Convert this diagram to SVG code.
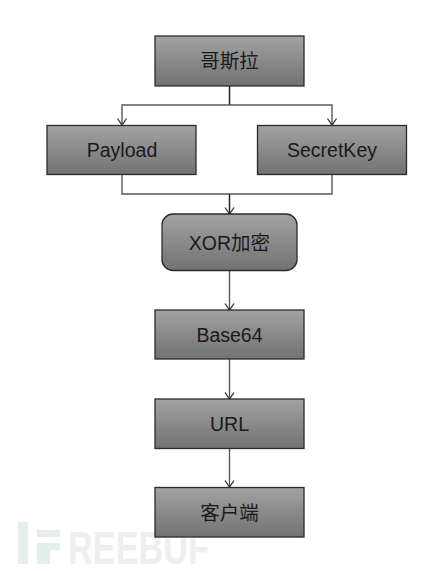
<svg xmlns="http://www.w3.org/2000/svg" width="448" height="571" viewBox="0 0 448 571">
<style>
.n{fill:url(#g);stroke:#2b2b2b;stroke-width:1.3}
.t{font-family:"Liberation Sans","Noto Sans CJK SC",sans-serif;font-size:19.5px;fill:#1a1a1a;text-anchor:middle}
.c{fill:none;stroke:#5a5a5a;stroke-width:1.4}
.d{fill:none;stroke:#222;stroke-width:1.5}
.w{font-family:"Liberation Sans",sans-serif;font-weight:bold;font-size:47px;fill:#eeeeee}
</style>
<defs>
<linearGradient id="g" x1="0" y1="0" x2="0" y2="1"><stop offset="0" stop-color="#a2a2a2"/><stop offset="1" stop-color="#727272"/></linearGradient>
<marker id="a" markerUnits="userSpaceOnUse" markerWidth="12" markerHeight="12" refX="9" refY="6" orient="auto"><path d="M2.5 1.500L9 6L2.500 10.500" fill="none" stroke="#333" stroke-width="1.3"/></marker>
</defs>
<rect width="448" height="571" fill="#fff"/>
<g id="watermark">
<rect x="18" y="522" width="10" height="42" fill="#e4efe9"/>
<rect x="37" y="530" width="23" height="7" fill="#e4efe9"/>
<rect x="37" y="543" width="23" height="7" fill="#e4efe9"/>
<rect x="37" y="550" width="13" height="14" fill="#e4efe9"/>
<text class="w" x="68" y="564" textLength="141" lengthAdjust="spacingAndGlyphs">REEBUF</text>
</g>
<g id="connectors">
<path class="d" d="M229.500 86V105"/>
<path class="c" d="M229.500 105H122V125" marker-end="url(#a)"/>
<path class="c" d="M229.500 105H332V125" marker-end="url(#a)"/>
<path class="c" d="M122 174V194H332V174"/>
<path class="d" d="M229.500 194V214" marker-end="url(#a)"/>
<path class="c" d="M229.500 271V310" marker-end="url(#a)"/>
<path class="c" d="M229.500 359V399" marker-end="url(#a)"/>
<path class="c" d="M229.500 448V487" marker-end="url(#a)"/>
</g>
<g id="n1"><rect class="n" x="155" y="36" width="149" height="50"/><text class="t" x="229.500" y="68">哥斯拉</text></g>
<g id="n2"><rect class="n" x="47" y="125.500" width="149" height="49"/><text class="t" x="122" y="156.500">Payload</text></g>
<g id="n3"><rect class="n" x="257.500" y="125.500" width="149" height="49"/><text class="t" x="332" y="156.500">SecretKey</text></g>
<g id="n4"><rect class="n" x="162" y="214" width="135" height="56.500" rx="11"/><text class="t" x="229.500" y="250">XOR加密</text></g>
<g id="n5"><rect class="n" x="155" y="310" width="149" height="49"/><text class="t" x="229.500" y="342">Base64</text></g>
<g id="n6"><rect class="n" x="155" y="399" width="149" height="49.500"/><text class="t" x="229.500" y="431">URL</text></g>
<g id="n7"><rect class="n" x="155" y="487.500" width="149" height="49.500"/><text class="t" x="229.500" y="519.500">客户端</text></g>
</svg>
